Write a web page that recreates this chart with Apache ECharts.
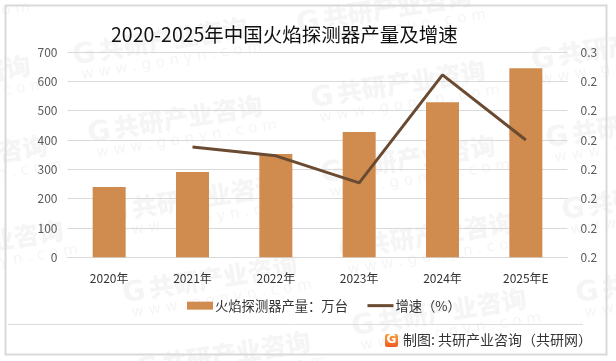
<!DOCTYPE html>
<html><head><meta charset="utf-8">
<style>html,body{margin:0;padding:0;background:#fff}#c{width:616px;height:361px}</style>
<script src="https://cdn.jsdelivr.net/npm/echarts@6/dist/echarts.min.js"></script>
</head><body><div id="c"></div>
<script>
const categories = ['2020年','2021年','2022年','2023年','2024年','2025年E'];
const output = [240, 291, 352, 427, 529, 645];
const growth = [null, 0.2338, 0.2323, 0.2277, 0.2461, 0.2350];
const title = '2020-2025年中国火焰探测器产量及增速';
const barName = '火焰探测器产量：万台';
const lineName = '增速（%）';
const source = '制图: 共研产业咨询（共研网）';
const wmStarts = [[-160,12],[-145,90],[-128,170],[-112,255],
  [72,52],[87,130],[105,210],[122,290],[135,366],
  [296,20],[310,95],[320,170],[338,247],[351,323],
  [531,57],[545,135],[561,207],[575,290]];
const font = '"Noto Sans CJK SC","Noto Sans",sans-serif';
const wmColor = '#f5f5f5';
const wm = wmStarts.map(([x,y]) => ({
  type:'group', x, y, rotation:9*Math.PI/180, z:-10, silent:true,
  children:[
    {type:'text',style:{x:0,y:-9,text:'G',font:'900 28px "DejaVu Sans"',fill:wmColor}},
    {type:'text',style:{x:27,y:-10,text:'共研产业咨询',font:'900 25px '+font,fill:wmColor}},
    {type:'text',style:{x:6,y:17,text:'w w w . g o n y n . c o m',font:'15px "DejaVu Sans"',fill:wmColor}}
  ]}));
const chart = echarts.init(document.getElementById('c'),null,{renderer:'canvas'});
chart.setOption({
  animation:false, backgroundColor:'#fff',
  title:{text:title,left:106,top:20,textStyle:{fontFamily:font,fontSize:19.5,fontWeight:'normal',color:'#111'}},
  grid:{left:67.5,right:48.5,top:52,bottom:103.7},
  legend:{left:182,top:294,itemGap:18,itemWidth:26,itemHeight:8,
    textStyle:{fontFamily:font,fontSize:13.3,color:'#333',padding:[0,0,0,-3]},
    data:[{name:barName,icon:'rect'},{name:lineName,itemStyle:{opacity:0},lineStyle:{width:3,color:'#6a4a30'}}]},
  xAxis:{type:'category',data:categories,axisTick:{show:false},
    axisLine:{lineStyle:{color:'#d9d9d9',width:1}},
    axisLabel:{fontFamily:font,fontSize:12,color:'#333',margin:15}},
  yAxis:[
    {type:'value',min:0,max:700,interval:100,axisLine:{show:false},axisTick:{show:false},
     splitLine:{lineStyle:{color:'#d9d9d9',width:1}},
     axisLabel:{fontFamily:font,fontSize:12,color:'#595959',margin:10}},
    {type:'value',min:0.215,max:0.25,interval:0.005,axisLine:{show:false},axisTick:{show:false},
     splitLine:{show:false},
     axisLabel:{fontFamily:font,fontSize:12,color:'#595959',margin:13,
       formatter:v=>Number(v).toFixed(1)}}
  ],
  series:[
    {name:barName,type:'bar',data:output,barWidth:33,itemStyle:{color:'#d08c4e'}},
    {name:lineName,type:'line',yAxisIndex:1,data:growth,symbol:'none',connectNulls:false,
     lineStyle:{color:'#6a4a30',width:3},itemStyle:{color:'#6a4a30'}}
  ],
  graphic:[
    {type:'rect',shape:{x:5.5,y:5.5,width:601,height:349},style:{fill:'none',stroke:'#d9d9d9',lineWidth:2},z:5,silent:true},
    ...wm,
    {type:'line',shape:{x1:8,y1:324.5,x2:583,y2:324.5},style:{stroke:'#dcdcdc',lineWidth:1},z:1,silent:true},
    {type:'rect',shape:{x:385,y:334,width:13,height:13,r:2},
     style:{fill:new echarts.graphic.LinearGradient(0,0,0,1,[{offset:0,color:'#f9a03a'},{offset:1,color:'#ef5a24'}])},z:1,silent:true},
    {type:'text',style:{x:386.5,y:334,text:'G',font:'bold 12px "DejaVu Sans"',fill:'#fff'},z:2,silent:true},
    {type:'text',style:{x:403,y:333,text:source,font:'14px '+font,fill:'#333'},z:2,silent:true}
  ]
});
</script></body></html>
